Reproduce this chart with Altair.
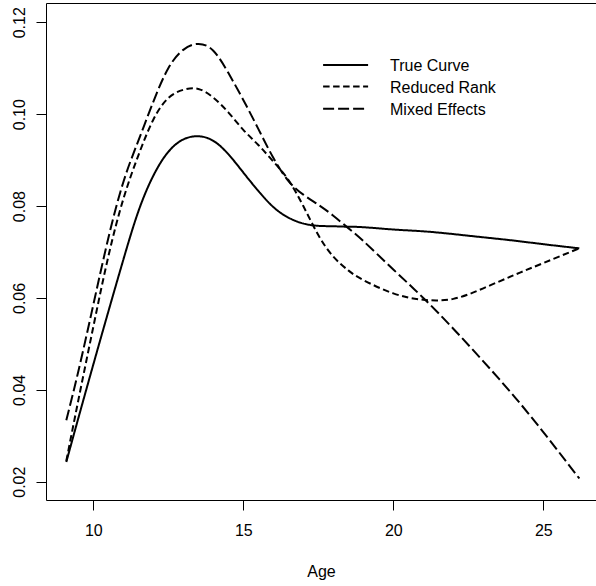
import altair as alt
import pandas as pd

# ---- data ----
ages = [9.1, 9.5, 10, 10.5, 11, 11.5, 12, 12.5, 13, 13.5, 14, 14.5, 15, 15.5,
        16, 16.5, 17, 17.5, 18, 18.5, 19, 20, 21, 22, 23, 24, 25, 26.2]
true_curve = [0.0243, 0.0338, 0.0455, 0.0570, 0.0683, 0.0788, 0.0866, 0.0918, 0.0945, 0.0952,
              0.0942, 0.0913, 0.0873, 0.0833, 0.0798, 0.0775, 0.0762, 0.0757, 0.0756, 0.0755,
              0.0754, 0.0749, 0.0745, 0.0739, 0.0732, 0.0725, 0.0717, 0.0708]
reduced_rank = [0.0245, 0.0377, 0.0537, 0.0690, 0.0815, 0.0910, 0.0988, 0.1035, 0.1053, 0.1055,
                0.1036, 0.1004, 0.0966, 0.0933, 0.0897, 0.0857, 0.0800, 0.0737, 0.0690, 0.0660,
                0.0639, 0.0610, 0.0596, 0.0598, 0.0621, 0.0649, 0.0676, 0.0708]
mixed_effects = [0.0334, 0.0440, 0.0585, 0.0730, 0.0852, 0.0942, 0.1027, 0.1100, 0.1140, 0.1153,
                 0.1138, 0.1090, 0.1031, 0.0968, 0.0905, 0.0855, 0.0825, 0.0803, 0.0779, 0.0752,
                 0.0724, 0.0662, 0.0600, 0.0533, 0.0462, 0.0388, 0.0308, 0.0207]
series_names = ["True Curve", "Reduced Rank", "Mixed Effects"]
x_ticks = [10, 15, 20, 25]
y_ticks = [0.02, 0.04, 0.06, 0.08, 0.10, 0.12]
x_title = "Age"

# ---- layout / style constants ----
X_DOMAIN = [8.4233, 26.7567]
Y_DOMAIN = [0.016017, 0.124202]
LEG_X1, LEG_X2, LEG_XT = 17.66, 19.16, 19.89
LEG_Y = [0.1107, 0.1060, 0.1012]
DASHES = [[1, 0], [6.5, 3.5], [11, 4]]
FONT = "Liberation Sans"

rows = []
for name, vals in zip(series_names, [true_curve, reduced_rank, mixed_effects]):
    for a, v in zip(ages, vals):
        rows.append({"age": a, "value": v, "series": name})
df = pd.DataFrame(rows)

leg = pd.DataFrame({"series": series_names, "ly": LEG_Y,
                    "x1": [LEG_X1] * 3, "x2": [LEG_X2] * 3, "xt": [LEG_XT] * 3})

x_axis = alt.Axis(values=x_ticks, tickSize=10, tickColor="black", labelColor="black",
                  labelFontSize=16, labelBaseline="alphabetic", labelPadding=25,
                  labelFlush=False, labelOverlap=False, domain=False, grid=False,
                  titleFontSize=16, titleFontWeight="normal", titleColor="black",
                  titleBaseline="alphabetic", titleY=76)
y_axis = alt.Axis(values=y_ticks, format=".2f", tickSize=10, tickColor="black",
                  labelColor="black", labelFontSize=16, labelAngle=270,
                  labelAlign="center", labelBaseline="alphabetic", labelPadding=12,
                  labelFlush=False, labelOverlap=False, domain=False, grid=False)
x_scale = alt.Scale(domain=X_DOMAIN, nice=False, zero=False)
y_scale = alt.Scale(domain=Y_DOMAIN, nice=False, zero=False)


def X(field):
    return alt.X(field, scale=x_scale, axis=x_axis, title=x_title)


def Y(field):
    return alt.Y(field, scale=y_scale, axis=y_axis, title=None)


dash = alt.StrokeDash("series:N", scale=alt.Scale(domain=series_names, range=DASHES),
                      legend=None)

lines = alt.Chart(df).mark_line(color="black", strokeWidth=2, interpolate="natural",
                                clip=True).encode(
    x=X("age:Q"), y=Y("value:Q"), strokeDash=dash)

leg_rules = alt.Chart(leg).mark_rule(color="black", strokeWidth=2).encode(
    x=X("x1:Q"), x2="x2:Q", y=Y("ly:Q"), strokeDash=dash)

leg_text = alt.Chart(leg).mark_text(align="left", baseline="middle", fontSize=16,
                                    font=FONT, color="black", dy=1).encode(
    x=X("xt:Q"), y=Y("ly:Q"), text="series:N")

chart = alt.layer(lines, leg_rules, leg_text).properties(
    width=550, height=497,
    autosize=alt.AutoSizeParams(type="none"),
    padding={"left": 46, "top": 3, "right": 0, "bottom": 86},
).configure(font=FONT).configure_view(stroke="black", strokeWidth=1)

chart.save("out.html", embed_options={"renderer": "svg", "actions": False})
